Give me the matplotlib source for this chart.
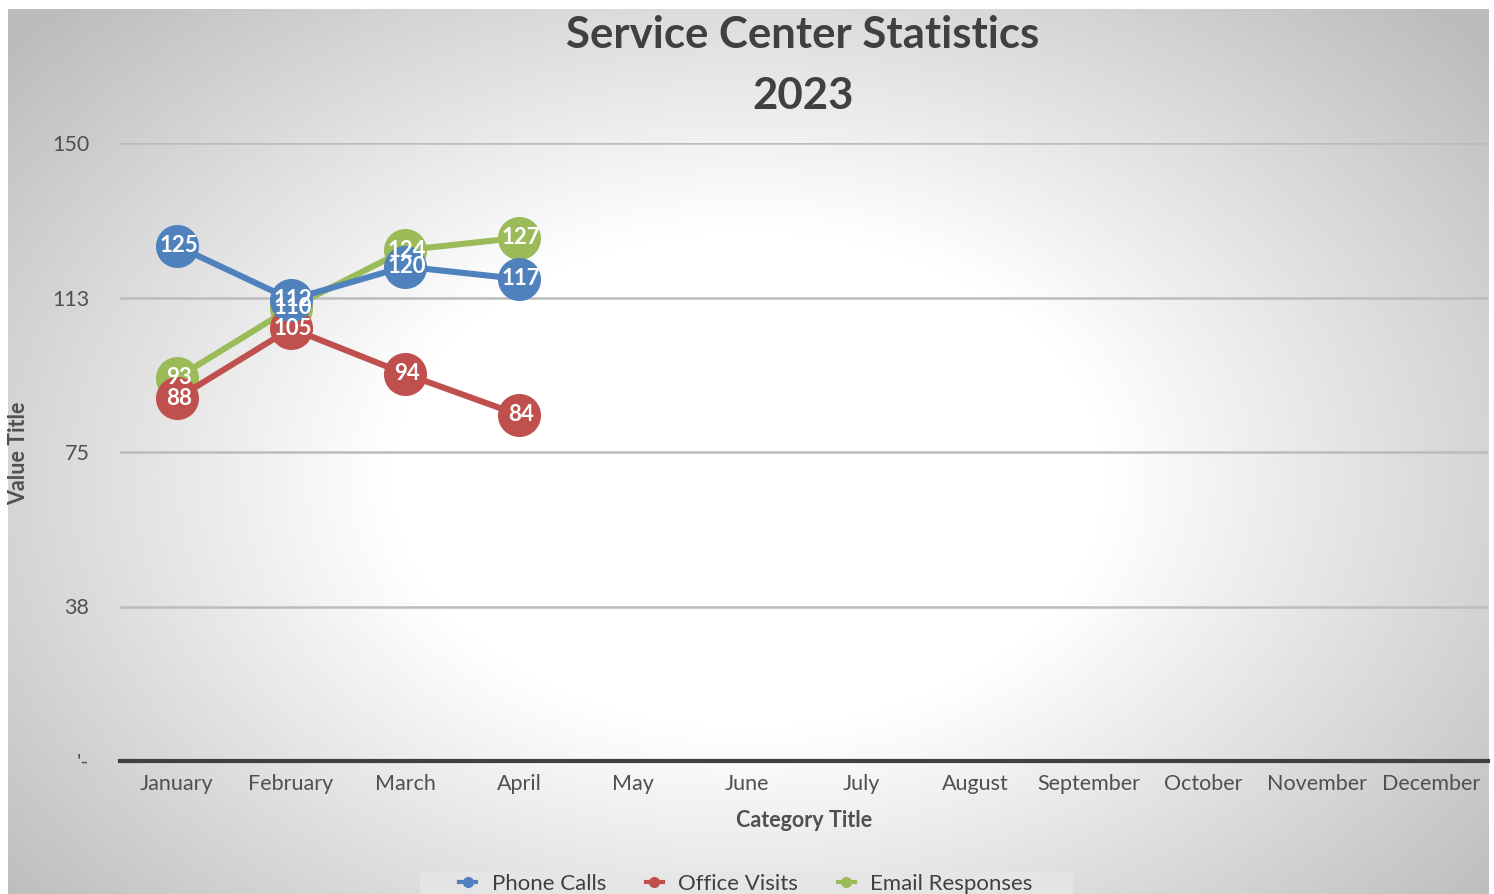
import numpy as np
import matplotlib
matplotlib.use("Agg")
import matplotlib.pyplot as plt
from matplotlib.lines import Line2D
from matplotlib.patches import Rectangle

plt.rcParams['font.family'] = ['Lato', 'DejaVu Sans']

months = ['January', 'February', 'March', 'April', 'May', 'June', 'July',
          'August', 'September', 'October', 'November', 'December']
phone_calls = [125, 112, 120, 117]
office_visits = [88, 105, 94, 84]
email_responses = [93, 110, 124, 127]
y_ticks = [0, 37.5, 75, 112.5, 150]
y_labels = ["'-", '38', '75', '113', '150']

series = [
    ('Phone Calls', phone_calls, '#4f81bd'),
    ('Office Visits', office_visits, '#c0504d'),
    ('Email Responses', email_responses, '#9bbb59'),
]

W, H = 1494, 894
fig = plt.figure(figsize=(W / 100, H / 100), dpi=100)
fig.patch.set_facecolor('white')

# radial gradient chart background (pixel based ellipse)
bg = fig.add_axes([8 / W, 0, 1481 / W, 885 / H], zorder=0)
px, py = np.meshgrid(np.arange(0, 1481, 4), np.arange(0, 885, 4))
d = np.sqrt(((px - 740) / 400.0) ** 2 + ((py - 470) / 280.0) ** 2)
t = np.clip((d - 0.9) / 1.5, 0, 1)
val = 1.0 - 0.26 * t
bg.imshow(np.dstack([val, val, val]), aspect='auto', extent=[0, 1, 0, 1],
          origin='upper', interpolation='bilinear')
bg.set_xlim(0, 1)
bg.set_ylim(0, 1)
bg.axis('off')

ax = fig.add_axes([120 / W, (H - 761) / H, 1368 / W, 618 / H], zorder=1)
ax.set_facecolor('none')

x = np.arange(len(phone_calls))
for name, vals, col in reversed(series):
    ax.plot(x, vals, color=col, lw=4.4, marker='o', markersize=31,
            markeredgewidth=0, solid_capstyle='round', zorder=3)
for name, vals, col in series:
    for xi, v in zip(x, vals):
        ax.text(xi + 0.02, v, str(v), color='white', fontsize=16,
                fontweight='bold', ha='center', va='center', zorder=5)

ax.set_xlim(-0.5, len(months) - 0.5)
ax.set_ylim(0, 150)
ax.set_xticks(np.arange(len(months)))
ax.set_xticklabels(months)
ax.set_yticks(y_ticks)
ax.set_yticklabels(y_labels)
ax.tick_params(length=0, labelsize=15.5, labelcolor='#505050')
ax.tick_params(axis='y', pad=22)
ax.tick_params(axis='x', pad=9)
for yt in y_ticks[1:]:
    ax.axhline(yt, color='#bcbcbc', lw=1.8, zorder=1)
for s in ['top', 'right', 'left']:
    ax.spines[s].set_visible(False)
ax.spines['bottom'].set_color('#404040')
ax.spines['bottom'].set_linewidth(3)
ax.spines['bottom'].set_zorder(2)

ax.set_xlabel('Category Title', fontsize=15.5, fontweight='bold',
              color='#505050', labelpad=12)
fig.text(19 / W, 1 - 453 / H, 'Value Title', rotation=90, fontsize=15.5,
         fontweight='bold', color='#505050', ha='center', va='center')

fig.text(803 / W, 1 - 35 / H, 'Service Center Statistics', fontsize=31.5,
         fontweight='bold', color='#404040', ha='center', va='center')
fig.text(803 / W, 1 - 96 / H, '2023', fontsize=31.5,
         fontweight='bold', color='#404040', ha='center', va='center')

# legend box
fig.patches.append(Rectangle((420 / W, 0), 653 / W, 22 / H,
                             transform=fig.transFigure, facecolor='#e6e6e6',
                             edgecolor='none', alpha=0.85, zorder=2))
handles = [Line2D([0], [0], color=c, lw=3, marker='o', markersize=7)
           for _, _, c in series]
leg = fig.legend(handles, [n for n, _, _ in series], loc='center',
                 bbox_to_anchor=(746 / W, 1 - 884 / H), ncol=3, fontsize=16,
                 frameon=False, handlelength=0.75, columnspacing=1.8,
                 borderpad=0.1, handletextpad=0.7, borderaxespad=0)
leg.set_zorder(3)
for t_ in leg.get_texts():
    t_.set_color('#404040')

fig.savefig('out.png', dpi=100)
